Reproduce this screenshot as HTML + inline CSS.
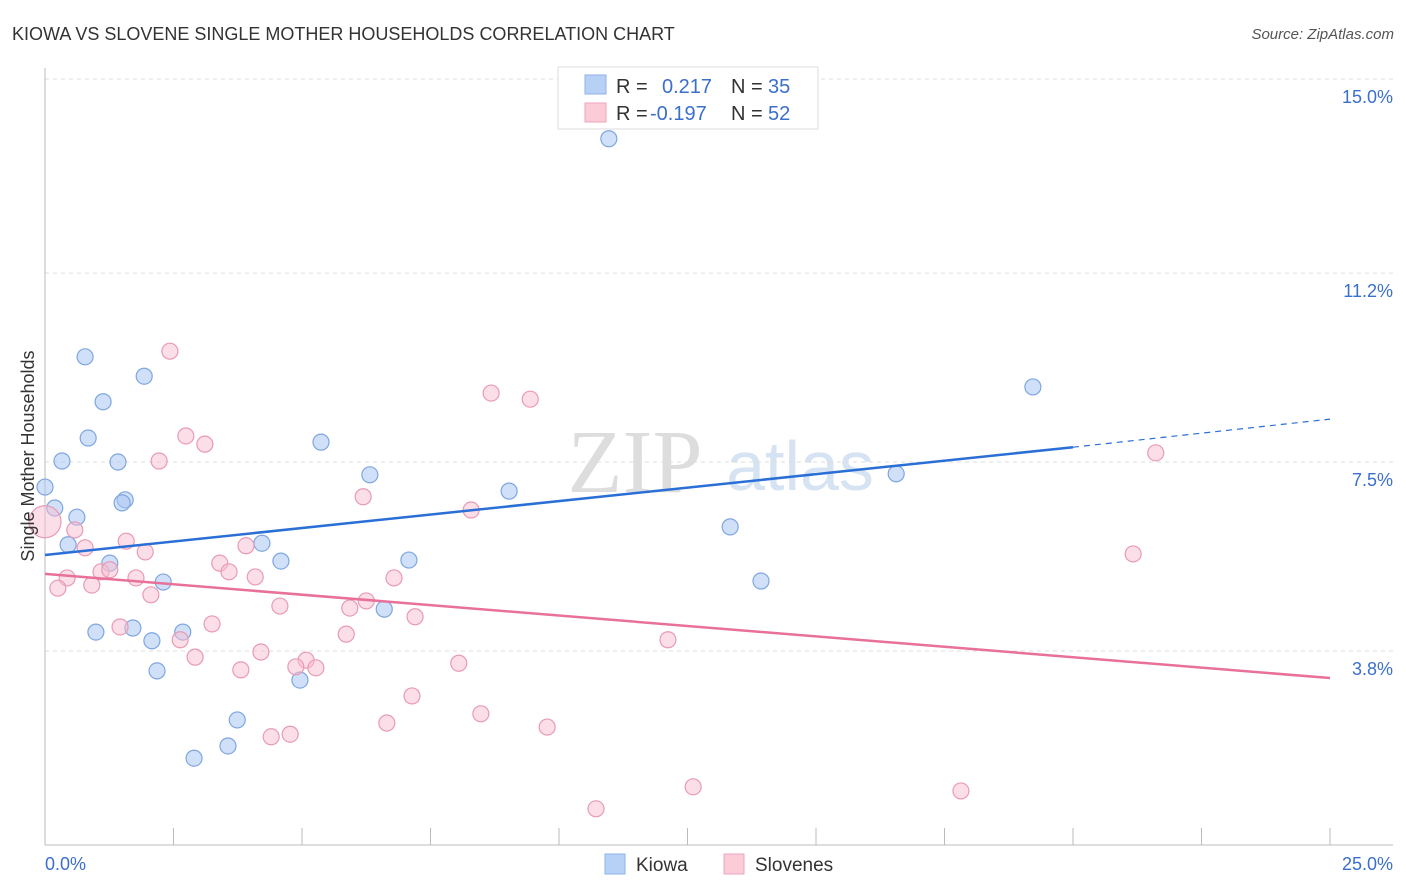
<!DOCTYPE html>
<html><head><meta charset="utf-8"><style>
body{margin:0;background:#fff;font-family:"Liberation Sans",sans-serif;}
svg{display:block}
</style></head><body>
<svg id="chart" width="1406" height="892">
<text x="12" y="40" font-size="18" fill="#333">KIOWA VS SLOVENE SINGLE MOTHER HOUSEHOLDS CORRELATION CHART</text>
<text x="1394" y="39" font-size="15" fill="#555" font-style="italic" text-anchor="end">Source: ZipAtlas.com</text>
<text x="635" y="492" font-size="90" fill="#ddd" font-family="Liberation Serif,serif" text-anchor="middle">ZIP</text>
<text x="800" y="490" font-size="70" fill="#d6e3f3" text-anchor="middle">atlas</text>
<g id="grid"></g>
<g id="axes"></g>
<g id="marks"></g>
<text transform="translate(34,456) rotate(-90)" font-size="18" fill="#333" text-anchor="middle">Single Mother Households</text>
<g>
<rect x="558" y="67" width="260" height="62" fill="#fff" stroke="#ddd"/>
<rect x="585" y="75" width="21" height="19" fill="#b7d0f5" stroke="#8fb0e6"/>
<text x="616" y="93" font-size="20" fill="#333">R =</text>
<text x="662" y="93" font-size="20" fill="#3b6fcc">0.217</text>
<text x="731" y="93" font-size="20" fill="#333">N =</text>
<text x="768" y="93" font-size="20" fill="#3b6fcc">35</text>
<rect x="585" y="103" width="21" height="19" fill="#fbcbd8" stroke="#eca5bb"/>
<text x="616" y="120" font-size="20" fill="#333">R =</text>
<text x="650" y="120" font-size="20" fill="#3b6fcc">-0.197</text>
<text x="731" y="120" font-size="20" fill="#333">N =</text>
<text x="768" y="120" font-size="20" fill="#3b6fcc">52</text>
</g>
<g>
<rect x="605" y="854" width="20" height="20" fill="#b7d0f5" stroke="#8fb0e6"/>
<text x="636" y="871" font-size="19" fill="#333">Kiowa</text>
<rect x="724" y="854" width="20" height="20" fill="#fbcbd8" stroke="#eca5bb"/>
<text x="755" y="871" font-size="19" fill="#333">Slovenes</text>
</g>
</svg>
<script>
const yTicks=[15.0,11.2,7.5,3.8];
const yTickLabels=["15.0%","11.2%","7.5%","3.8%"];
const xTickLabels=["0.0%","25.0%"];
const kiowaX=[10.97,0.78,1.93,1.13,0.84,0.33,1.42,5.37,19.22,0,0.19,1.56,1.50,0.62,0.45,6.32,9.03,16.56,4.22,13.33,1.26,4.59,7.08,2.30,13.93,6.60,0.99,1.71,2.08,2.68,2.18,4.96,3.74,3.56,2.90];
const kiowaY=[13.83,9.56,9.18,8.68,7.97,7.52,7.50,7.89,8.97,7.01,6.60,6.76,6.70,6.42,5.88,7.25,6.93,7.27,5.91,6.23,5.52,5.56,5.58,5.15,5.17,4.62,4.17,4.25,4.00,4.17,3.41,3.23,2.45,1.94,1.70];
const sloX=[2.43,8.68,9.44,2.74,3.11,2.22,21.61,6.19,8.29,0.0,0.58,1.58,0.78,1.95,3.91,3.40,21.17,1.09,1.26,0.43,3.58,1.77,0.25,0.91,4.09,6.79,2.06,4.57,6.25,5.93,7.20,3.25,1.46,5.86,2.63,12.12,4.20,2.92,5.08,8.05,4.88,5.27,3.81,7.14,8.48,6.65,9.77,4.77,4.40,12.61,17.82,10.72];
const sloY=[9.67,8.85,8.73,8.01,7.85,7.52,7.68,6.82,6.56,6.33,6.17,5.95,5.82,5.74,5.86,5.52,5.70,5.35,5.39,5.23,5.35,5.23,5.03,5.09,5.25,5.23,4.90,4.68,4.78,4.64,4.47,4.33,4.27,4.13,4.02,4.02,3.78,3.68,3.62,3.56,3.49,3.47,3.43,2.92,2.57,2.39,2.31,2.17,2.12,1.14,1.06,0.71];
const kiowaTrend=[5.68,7.79,8.34]; // at x=0,20,25
const sloTrend=[5.31,3.27]; // at x=0,25
const NS="http://www.w3.org/2000/svg";
const X=v=>45+v*51.4, Y=v=>79+(15-v)*51.07;
function mk(p,tag,a){const e=document.createElementNS(NS,tag);for(const k in a)e.setAttribute(k,a[k]);document.getElementById(p).appendChild(e);return e;}
yTicks.forEach((t,i)=>{
 let l=mk('grid','line',{x1:45,x2:1393,y1:Y(t),y2:Y(t),stroke:'#ddd','stroke-dasharray':'4,4'});
 
 
 let tx=mk('grid','text',{x:1393,y:Y(t)+24,'font-size':18,fill:'#3b6fcc','text-anchor':'end'});tx.textContent=yTickLabels[i];
 
 
});
let ax=mk('axes','line',{x1:45,x2:45,y1:68,y2:845,stroke:'#bbb'});


let bx=mk('axes','line',{x1:45,x2:1393,y1:845,y2:845,stroke:'#bbb'});


for(let i=0;i<=10;i++){let t=mk('axes','line',{x1:X(i*2.5),x2:X(i*2.5),y1:828,y2:845,stroke:'#bbb'});
 
 }
[[0,45,'start'],[25,1393,'end']].forEach((d,i)=>{let t=mk('axes','text',{x:d[1],y:870,'font-size':18,fill:'#3b6fcc','text-anchor':d[2]});t.textContent=xTickLabels[i];
 
 });
kiowaX.forEach((x,i)=>{let c=mk('marks','circle',{cx:X(x),cy:Y(kiowaY[i]),r:8,fill:'rgba(170,198,242,0.55)',stroke:'#7fa6e0','stroke-width':1.2});
 
 });
sloX.forEach((x,i)=>{let c=mk('marks','circle',{cx:X(x),cy:Y(sloY[i]),r:(i==9?16:8),fill:'rgba(248,190,208,0.5)',stroke:'#e99ab5','stroke-width':1.2});
 
 });
let l1=mk('marks','line',{x1:X(0),y1:Y(kiowaTrend[0]),x2:X(20),y2:Y(kiowaTrend[1]),stroke:'#2a6fd6','stroke-width':2.5});


let l2=mk('marks','line',{x1:X(20),y1:Y(kiowaTrend[1]),x2:X(25),y2:Y(kiowaTrend[2]),stroke:'#2a6fd6','stroke-width':1.2,'stroke-dasharray':'6,5'});


let l3=mk('marks','line',{x1:X(0),y1:Y(sloTrend[0]),x2:X(25),y2:Y(sloTrend[1]),stroke:'#e8709a','stroke-width':2.5});


</script>
</body></html>
